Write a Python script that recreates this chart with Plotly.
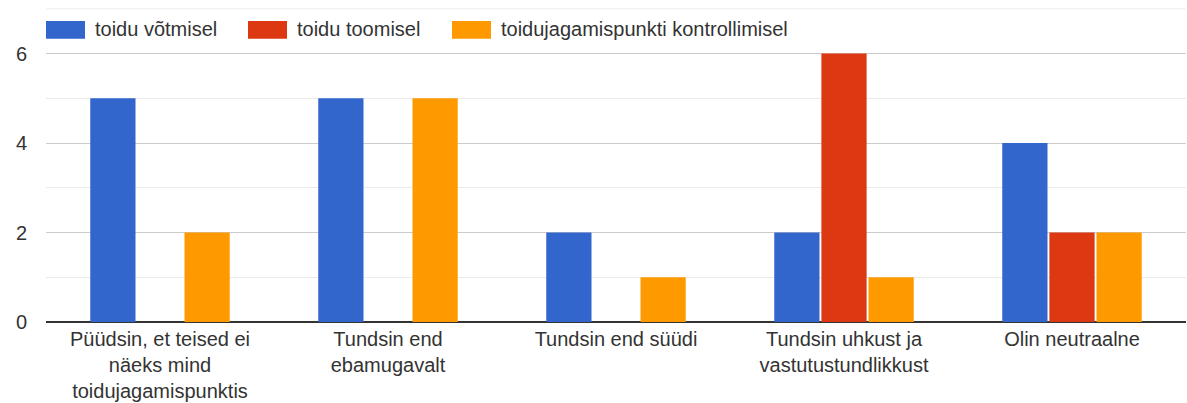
import plotly.graph_objects as go

# Survey answers (categories) and counts per situation (series)
categories = [
    "Püüdsin, et teised ei<br>näeks mind<br>toidujagamispunktis",
    "Tundsin end<br>ebamugavalt",
    "Tundsin end süüdi",
    "Tundsin uhkust ja<br>vastutustundlikkust",
    "Olin neutraalne",
]
series_names = ["toidu võtmisel", "toidu toomisel", "toidujagamispunkti kontrollimisel"]
votmisel = [5, 5, 2, 2, 4]
toomisel = [0, 0, 0, 6, 2]
kontrollimisel = [2, 5, 1, 1, 2]
y_ticks = [0, 2, 4, 6]
y_top = 7

colors = ["#3366cc", "#dc3912", "#ff9900"]
values = [votmisel, toomisel, kontrollimisel]
FONT = "Arial, Liberation Sans, sans-serif"
TEXT = "#333333"

W, H = 1187, 403
L, R, T, B = 46, 1, 8, 81

fig = go.Figure()
for name, vals, col in zip(series_names, values, colors):
    fig.add_trace(go.Bar(x=categories, y=vals, name=name, marker=dict(color=col, line=dict(width=0))))

# Top boundary gridline of the plot area
fig.add_shape(type="line", xref="paper", yref="y", x0=0, x1=1, y0=y_top, y1=y_top,
              line=dict(color="#ebebeb", width=1), layer="below")

# Custom legend row drawn inside the top of the plot area
legend_x = [46, 248, 452]
plot_w = W - L - R
for name, col, px in zip(series_names, colors, legend_x):
    x0 = (px - L) / plot_w
    x1 = (px + 39 - L) / plot_w
    fig.add_shape(type="rect", xref="paper", yref="y", x0=x0, x1=x1, y0=6.33, y1=6.73,
                  fillcolor=col, line=dict(width=0), layer="above")
    fig.add_annotation(xref="paper", yref="y", x=(px + 47 - L) / plot_w, y=6.55,
                       text=name, showarrow=False, xanchor="left", yanchor="middle",
                       font=dict(family=FONT, size=20, color=TEXT))

fig.update_layout(
    width=W, height=H,
    margin=dict(l=L, r=R, t=T, b=B, pad=0),
    plot_bgcolor="white", paper_bgcolor="white",
    barmode="group", bargap=0.38, bargroupgap=0.04,
    showlegend=False,
    font=dict(family=FONT, size=20, color=TEXT),
)
fig.update_xaxes(
    showgrid=False, showline=False, ticks="", ticklabelstandoff=3,
    tickfont=dict(family=FONT, size=20, color=TEXT),
)
fig.update_yaxes(
    range=[0, 7.02], tickvals=y_ticks, ticks="",
    showgrid=True, gridcolor="#cccccc", gridwidth=1,
    minor=dict(dtick=1, showgrid=True, gridcolor="#ebebeb", gridwidth=1),
    zeroline=True, zerolinecolor="#333333", zerolinewidth=2,
    showline=False, ticklabelstandoff=18,
    tickfont=dict(family=FONT, size=20, color=TEXT),
)

fig.write_html("out.html")
